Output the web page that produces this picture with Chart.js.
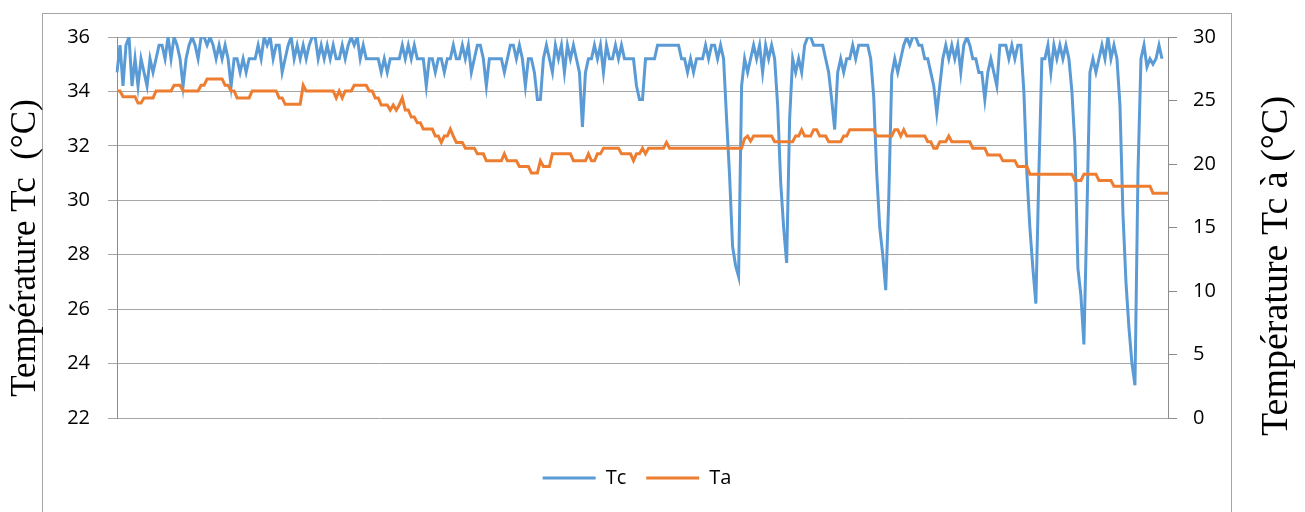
<!DOCTYPE html>
<html>
<head>
<meta charset="utf-8">
<title>Tc / Ta</title>
<script src="https://cdn.jsdelivr.net/npm/chart.js@4.4.1/dist/chart.umd.min.js"></script>
<style>
  body { margin: 0; background: #fff; }
  canvas { display: block; }
</style>
</head>
<body>
<canvas id="chart" width="1305" height="512"></canvas>
<script>
// Tc, left axis (°C)
const tc = [
  34.7, 35.7, 34.2, 35.7, 36.0, 34.2, 35.2, 34.2, 35.2, 34.7,
  34.2, 35.2, 34.7, 35.2, 35.7, 35.7, 35.2, 36.0, 35.2, 36.0,
  35.7, 35.2, 34.2, 35.2, 35.7, 36.0, 35.7, 35.2, 36.0, 36.0,
  35.7, 36.0, 35.7, 35.2, 35.7, 35.2, 35.7, 35.2, 34.2, 35.2,
  35.2, 34.7, 35.2, 34.7, 35.2, 35.2, 35.2, 35.7, 35.2, 36.0,
  35.7, 36.0, 35.2, 35.7, 35.7, 34.7, 35.2, 35.7, 36.0, 35.2,
  35.7, 35.2, 35.7, 35.2, 35.7, 36.0, 36.0, 35.2, 35.7, 35.2,
  35.7, 35.2, 35.7, 35.2, 35.2, 35.7, 35.2, 35.7, 36.0, 35.7,
  36.0, 35.2, 35.7, 35.2, 35.2, 35.2, 35.2, 35.2, 34.7, 35.2,
  34.7, 35.2, 35.2, 35.2, 35.2, 35.7, 35.2, 35.7, 35.2, 35.7,
  35.2, 35.2, 35.2, 34.2, 35.2, 35.2, 34.7, 35.2, 35.2, 34.7,
  35.2, 35.2, 35.7, 35.2, 35.2, 35.7, 35.2, 35.7, 34.7, 35.2,
  35.7, 35.7, 35.2, 34.2, 35.2, 35.2, 35.2, 35.2, 35.2, 34.7,
  35.2, 35.7, 35.7, 35.2, 35.7, 35.2, 34.2, 35.2, 35.2, 34.7,
  33.7, 33.7, 35.2, 35.7, 35.2, 34.7, 35.7, 35.2, 35.7, 34.7,
  35.7, 35.2, 35.7, 35.2, 34.7, 32.7, 34.7, 35.2, 35.2, 35.7,
  35.2, 35.7, 34.7, 35.7, 35.2, 35.2, 35.7, 35.2, 35.7, 35.2,
  35.2, 35.2, 35.2, 34.2, 33.7, 33.7, 35.2, 35.2, 35.2, 35.2,
  35.7, 35.7, 35.7, 35.7, 35.7, 35.7, 35.7, 35.7, 35.2, 35.2,
  34.7, 35.2, 34.7, 35.2, 35.2, 35.2, 35.7, 35.2, 35.7, 35.7,
  35.2, 35.7, 35.2, 33.0, 30.9, 28.3, 27.6, 27.2, 34.2, 35.2,
  34.7, 35.2, 35.7, 35.2, 35.7, 34.7, 35.7, 35.2, 35.7, 35.2,
  33.5, 30.7, 29.0, 27.7, 33.0, 35.2, 34.7, 35.2, 34.7, 35.7,
  36.0, 36.0, 35.7, 35.7, 35.7, 35.7, 35.2, 34.7, 33.7, 32.6,
  34.7, 35.2, 34.7, 35.2, 35.2, 35.7, 35.2, 35.7, 35.7, 35.7,
  35.7, 35.2, 33.8, 31.0, 29.0, 28.0, 26.7, 30.0, 34.6, 35.2,
  34.7, 35.2, 35.7, 36.0, 35.7, 36.0, 36.0, 35.7, 35.7, 35.2,
  35.2, 34.7, 34.2, 33.2, 34.2, 35.2, 35.7, 35.2, 35.7, 35.2,
  35.7, 34.7, 35.7, 36.0, 35.7, 35.2, 35.2, 34.7, 34.7, 33.7,
  34.7, 35.2, 34.7, 34.2, 35.7, 35.7, 35.7, 35.2, 35.7, 35.2,
  35.7, 35.7, 34.0, 31.0, 29.0, 27.5, 26.2, 31.0, 35.2, 35.2,
  35.7, 34.7, 35.7, 35.2, 35.7, 35.2, 35.7, 35.2, 34.0, 32.0,
  27.5, 26.5, 24.7, 29.5, 34.7, 35.2, 34.7, 35.2, 35.7, 35.2,
  36.0, 35.2, 35.7, 35.2, 33.5, 29.5, 27.0, 25.3, 24.0, 23.2,
  31.0, 35.2, 35.7, 34.9, 35.2, 35.0, 35.2, 35.7, 35.2, null,
  null
];

// Ta, right axis (°C)
const ta = [
  25.75, 25.75, 25.3, 25.3, 25.3, 25.3, 25.3, 24.8, 24.8, 25.2,
  25.2, 25.2, 25.2, 25.75, 25.75, 25.75, 25.75, 25.75, 25.75, 26.2,
  26.2, 26.2, 25.75, 25.75, 25.75, 25.75, 25.75, 25.75, 26.2, 26.2,
  26.7, 26.7, 26.7, 26.7, 26.7, 26.7, 26.2, 26.2, 25.75, 25.75,
  25.2, 25.2, 25.2, 25.2, 25.2, 25.75, 25.75, 25.75, 25.75, 25.75,
  25.75, 25.75, 25.75, 25.75, 25.2, 25.2, 24.7, 24.7, 24.7, 24.7,
  24.7, 24.7, 26.2, 25.75, 25.75, 25.75, 25.75, 25.75, 25.75, 25.75,
  25.75, 25.75, 25.75, 25.2, 25.75, 25.2, 25.75, 25.75, 25.75, 26.2,
  26.2, 26.2, 26.2, 26.2, 25.75, 25.75, 25.2, 25.2, 24.65, 24.65,
  24.65, 24.25, 24.65, 24.25, 24.65, 25.2, 24.25, 24.25, 23.7, 23.7,
  23.25, 23.25, 22.75, 22.75, 22.75, 22.75, 22.2, 22.2, 21.7, 22.2,
  22.2, 22.75, 22.2, 21.7, 21.7, 21.7, 21.25, 21.25, 21.25, 21.25,
  20.8, 20.8, 20.8, 20.25, 20.25, 20.25, 20.25, 20.25, 20.25, 20.8,
  20.25, 20.25, 20.25, 20.25, 19.8, 19.8, 19.8, 19.8, 19.3, 19.3,
  19.3, 20.25, 19.8, 19.8, 19.8, 20.8, 20.8, 20.8, 20.8, 20.8,
  20.8, 20.8, 20.25, 20.25, 20.25, 20.25, 20.25, 20.8, 20.25, 20.25,
  20.8, 20.8, 21.25, 21.25, 21.25, 21.25, 21.25, 21.25, 20.8, 20.8,
  20.8, 20.8, 20.25, 20.8, 20.8, 21.25, 20.8, 21.25, 21.25, 21.25,
  21.25, 21.25, 21.25, 21.7, 21.25, 21.25, 21.25, 21.25, 21.25, 21.25,
  21.25, 21.25, 21.25, 21.25, 21.25, 21.25, 21.25, 21.25, 21.25, 21.25,
  21.25, 21.25, 21.25, 21.25, 21.25, 21.25, 21.25, 21.25, 21.25, 22.0,
  22.2, 21.8, 22.2, 22.2, 22.2, 22.2, 22.2, 22.2, 22.2, 21.75,
  21.75, 21.75, 21.75, 21.75, 21.75, 21.75, 22.2, 22.2, 22.7, 22.2,
  22.2, 22.2, 22.7, 22.7, 22.2, 22.2, 22.2, 21.75, 21.75, 21.75,
  21.75, 21.75, 22.2, 22.2, 22.7, 22.7, 22.7, 22.7, 22.7, 22.7,
  22.7, 22.7, 22.7, 22.2, 22.2, 22.2, 22.2, 22.2, 22.2, 22.7,
  22.7, 22.2, 22.7, 22.2, 22.2, 22.2, 22.2, 22.2, 22.2, 22.2,
  21.75, 21.75, 21.25, 21.25, 21.75, 21.75, 21.75, 22.2, 21.75, 21.75,
  21.75, 21.75, 21.75, 21.75, 21.75, 21.25, 21.25, 21.25, 21.25, 21.25,
  20.7, 20.7, 20.7, 20.7, 20.7, 20.25, 20.25, 20.25, 20.25, 20.25,
  19.8, 19.8, 19.8, 19.8, 19.2, 19.2, 19.2, 19.2, 19.2, 19.2,
  19.2, 19.2, 19.2, 19.2, 19.2, 19.2, 19.2, 19.2, 19.2, 18.7,
  18.7, 18.7, 19.2, 19.2, 19.2, 19.2, 19.2, 18.7, 18.7, 18.7,
  18.7, 18.7, 18.25, 18.25, 18.25, 18.25, 18.25, 18.25, 18.25, 18.25,
  18.25, 18.25, 18.25, 18.25, 18.25, 17.7, 17.7, 17.7, 17.7, 17.7,
  17.7
];

const tcTicks = [22, 24, 26, 28, 30, 32, 34, 36];
const taTicks = [0, 5, 10, 15, 20, 25, 30];
const leftTitle = 'Température Tc  (°C)';
const rightTitle = 'Température Tc à (°C)';

// one sample per reading, no visible x labels
const samples = ta.map((_, i) => i + 1);

const textFont = { family: '"Open Sans", "Liberation Sans", sans-serif', size: 20 };

// outer frame and the two rotated axis titles
const frameAndTitles = {
  id: 'frameAndTitles',
  beforeDraw(chart) {
    const ctx = chart.ctx;
    ctx.save();
    ctx.strokeStyle = '#a6a6a6';
    ctx.lineWidth = 1;
    ctx.strokeRect(42.5, 13.5, 1189, 560);
    ctx.restore();
  },
  afterDraw(chart) {
    const ctx = chart.ctx;
    ctx.save();
    ctx.fillStyle = '#000';
    ctx.textAlign = 'center';
    ctx.textBaseline = 'middle';
    [[leftTitle, 26, 248, 35], [rightTitle, 1277, 266, 38]].forEach(function(t) {
      ctx.save();
      ctx.font = t[3] + 'px "Liberation Serif", "Times New Roman", serif';
      ctx.translate(t[1], t[2]);
      ctx.rotate(-Math.PI / 2);
      ctx.fillText(t[0], 0, 0);
      ctx.restore();
    });
    ctx.restore();
  }
};

new Chart(document.getElementById('chart'), {
  type: 'line',
  data: {
    labels: samples,
    datasets: [{
      label: 'Tc',
      data: tc,
      yAxisID: 'y',
      borderColor: '#5b9bd5',
      backgroundColor: '#5b9bd5',
      borderWidth: 3,
      pointRadius: 0,
      tension: 0,
      order: 1
    }, {
      label: 'Ta',
      data: ta,
      yAxisID: 'y1',
      borderColor: '#ed7d31',
      backgroundColor: '#ed7d31',
      borderWidth: 3,
      pointRadius: 0,
      tension: 0,
      order: 0
    }]
  },
  options: {
    responsive: false,
    animation: false,
    layout: { padding: { left: 42, right: 73, top: 37, bottom: 14 } },
    plugins: {
      tooltip: { enabled: false },
      legend: {
        position: 'bottom',
        labels: {
          usePointStyle: true,
          pointStyle: 'line',
          pointStyleWidth: 53,
          padding: 20,
          color: '#000',
          font: textFont,
          sort: (a, b) => a.datasetIndex - b.datasetIndex
        }
      }
    },
    scales: {
      x: {
        type: 'category',
        ticks: { display: false },
        grid: { display: false },
        border: { display: false },
        afterFit: (scale) => { scale.height = 30; }
      },
      y: {
        position: 'left',
        min: tcTicks[0],
        max: tcTicks[tcTicks.length - 1],
        ticks: { stepSize: tcTicks[1] - tcTicks[0], padding: 18, color: '#000', font: textFont },
        grid: { color: '#a6a6a6', lineWidth: 1, tickLength: 9 },
        border: { color: '#8c8c8c', width: 1 },
        afterFit: (scale) => { scale.width = 75; }
      },
      y1: {
        position: 'right',
        min: taTicks[0],
        max: taTicks[taTicks.length - 1],
        ticks: { stepSize: taTicks[1] - taTicks[0], padding: 16, color: '#000', font: textFont },
        grid: { drawOnChartArea: false, color: '#8c8c8c', tickLength: 9 },
        border: { color: '#8c8c8c', width: 1 },
        afterFit: (scale) => { scale.width = 64; }
      }
    }
  },
  plugins: [frameAndTitles]
});
</script>
</body>
</html>
